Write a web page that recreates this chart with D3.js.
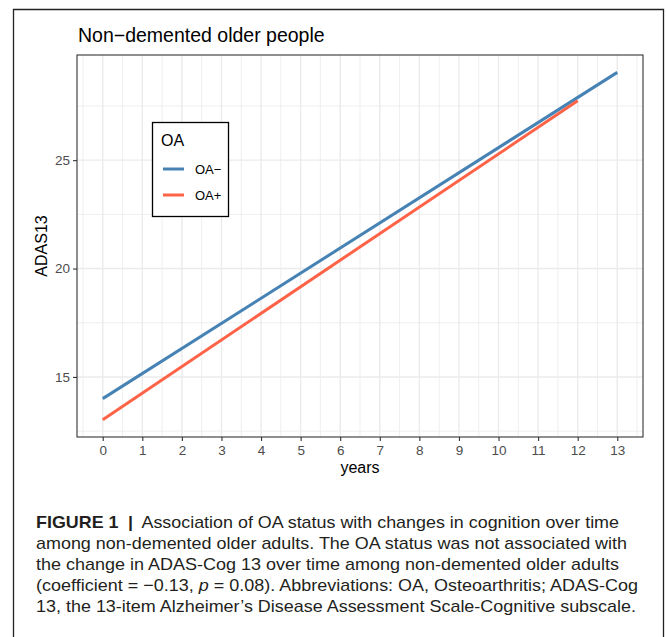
<!DOCTYPE html>
<html>
<head>
<meta charset="utf-8">
<script src="https://cdn.jsdelivr.net/npm/d3@7"></script>
<style>
    body { margin: 0; background: #fff; }
    svg { display: block; font-family: "Liberation Sans", Arial, sans-serif; }
</style>
</head>
<body>
<div class="chart"></div>
<script>
// data
var groups = ['OA−', 'OA+'];
var colors = ['#4682B4', '#FF6347'];
var oaMinusYears = [0, 13];
var oaMinusScore = [14.0, 29.05];
var oaPlusYears = [0, 12];
var oaPlusScore = [13.03, 27.74];
var xTicks = [0, 1, 2, 3, 4, 5, 6, 7, 8, 9, 10, 11, 12, 13];
var yTicks = [15, 20, 25];

var captionLines = [
    [{t: 'FIGURE 1', b: true}, {t: '|', b: true, dx: 9}, {t: 'Association of OA status with changes in cognition over time', dx: 8}],
    [{t: 'among non-demented older adults. The OA status was not associated with'}],
    [{t: 'the change in ADAS-Cog 13 over time among non-demented older adults'}],
    [{t: '(coefficient = \u22120.13, '}, {t: 'p', i: true}, {t: ' = 0.08). Abbreviations: OA, Osteoarthritis; ADAS-Cog'}],
    [{t: '13, the 13-item Alzheimer\u2019s Disease Assessment Scale-Cognitive subscale.'}]
];
var captionEnds = [619, 627, 619, 638, 636];

var W = 667, H = 637;
var panel = {left: 77, right: 643, top: 55, bottom: 437};

var series = [
    {name: groups[0], color: colors[0], pts: oaMinusYears.map(function (x, i) { return [x, oaMinusScore[i]]; })},
    {name: groups[1], color: colors[1], pts: oaPlusYears.map(function (x, i) { return [x, oaPlusScore[i]]; })}
];

// ggplot-style 5% expansion
function expand(ext) {
    var d = (ext[1] - ext[0]) * 0.05;
    return [ext[0] - d, ext[1] + d];
}
var allX = oaMinusYears.concat(oaPlusYears);
var allY = oaMinusScore.concat(oaPlusScore);

var x = d3.scaleLinear().domain(expand(d3.extent(allX))).range([panel.left, panel.right]);
var y = d3.scaleLinear().domain(expand(d3.extent(allY))).range([panel.bottom, panel.top]);

var svg = d3.select('.chart').append('svg')
    .attr('width', W)
    .attr('height', H);

// outer figure frame
svg.append('path')
    .attr('d', 'M13.5,' + (H + 2) + 'V9.5H663.5V' + (H + 2))
    .attr('fill', 'none')
    .attr('stroke', '#222')
    .attr('stroke-width', 1.3);

// grid
var xMinor = d3.range(-0.5, 14, 1).filter(function (d) { return d > x.domain()[0] && d < x.domain()[1]; });
var yMinor = [12.5, 17.5, 22.5, 27.5].filter(function (d) { return d > y.domain()[0] && d < y.domain()[1]; });

var grid = svg.append('g');
grid.selectAll('line.xminor').data(xMinor).enter().append('line')
    .attr('x1', function (d) { return x(d); }).attr('x2', function (d) { return x(d); })
    .attr('y1', panel.top).attr('y2', panel.bottom)
    .attr('stroke', '#EBEBEB').attr('stroke-width', 0.8);
grid.selectAll('line.yminor').data(yMinor).enter().append('line')
    .attr('y1', function (d) { return y(d); }).attr('y2', function (d) { return y(d); })
    .attr('x1', panel.left).attr('x2', panel.right)
    .attr('stroke', '#EBEBEB').attr('stroke-width', 0.8);
grid.selectAll('line.xmajor').data(xTicks).enter().append('line')
    .attr('x1', function (d) { return x(d); }).attr('x2', function (d) { return x(d); })
    .attr('y1', panel.top).attr('y2', panel.bottom)
    .attr('stroke', '#EBEBEB').attr('stroke-width', 1.4);
grid.selectAll('line.ymajor').data(yTicks).enter().append('line')
    .attr('y1', function (d) { return y(d); }).attr('y2', function (d) { return y(d); })
    .attr('x1', panel.left).attr('x2', panel.right)
    .attr('stroke', '#EBEBEB').attr('stroke-width', 1.4);

// lines
var line = d3.line()
    .x(function (d) { return x(d[0]); })
    .y(function (d) { return y(d[1]); });

svg.selectAll('path.series').data(series).enter().append('path')
    .attr('class', 'series')
    .attr('d', function (d) { return line(d.pts); })
    .attr('fill', 'none')
    .attr('stroke', function (d) { return d.color; })
    .attr('stroke-width', 3);

// panel border
svg.append('rect')
    .attr('x', panel.left).attr('y', panel.top)
    .attr('width', panel.right - panel.left).attr('height', panel.bottom - panel.top)
    .attr('fill', 'none').attr('stroke', '#333').attr('stroke-width', 1.1);

// axes
var xAxis = svg.append('g')
    .attr('transform', 'translate(0,' + panel.bottom + ')')
    .call(d3.axisBottom(x).tickValues(xTicks).tickSize(4).tickPadding(4));
var yAxis = svg.append('g')
    .attr('transform', 'translate(' + panel.left + ',0)')
    .call(d3.axisLeft(y).tickValues(yTicks).tickSize(4).tickPadding(3));

[xAxis, yAxis].forEach(function (a) {
    a.select('.domain').remove();
    a.selectAll('.tick line').attr('stroke', '#333').attr('stroke-width', 1.1);
    a.selectAll('.tick text')
        .attr('fill', '#4D4D4D')
        .style('font-family', '"Liberation Sans", Arial, sans-serif')
        .style('font-size', '13.5px');
});

// titles
svg.append('text')
    .attr('x', 78).attr('y', 42)
    .attr('font-size', 19.5)
    .attr('fill', '#000')
    .text('Non\u2212demented older people');

svg.append('text')
    .attr('x', (panel.left + panel.right) / 2).attr('y', 473)
    .attr('text-anchor', 'middle')
    .attr('font-size', 16)
    .text('years');

svg.append('text')
    .attr('transform', 'translate(47,' + ((panel.top + panel.bottom) / 2) + ') rotate(-90)')
    .attr('text-anchor', 'middle')
    .attr('font-size', 16)
    .text('ADAS13');

// legend
var legend = svg.append('g').attr('transform', 'translate(152,122)');
legend.append('rect')
    .attr('x', 0.5).attr('y', 0.5).attr('width', 76).attr('height', 94)
    .attr('fill', '#fff').attr('stroke', '#000').attr('stroke-width', 1.3);
legend.append('text')
    .attr('x', 9).attr('y', 24)
    .attr('font-size', 16)
    .text('OA');
var item = legend.selectAll('g.item').data(series).enter().append('g')
    .attr('class', 'item')
    .attr('transform', function (d, i) { return 'translate(0,' + (47 + i * 26) + ')'; });
item.append('line')
    .attr('x1', 11).attr('x2', 32)
    .attr('stroke', function (d) { return d.color; })
    .attr('stroke-width', 3);
item.append('text')
    .attr('x', 43).attr('y', 4.5)
    .attr('font-size', 13)
    .text(function (d) { return d.name; });

// caption
var cap = svg.append('g').attr('fill', '#231F20');
captionLines.forEach(function (parts, i) {
    var t = cap.append('text')
        .attr('x', 36)
        .attr('y', 527.5 + i * 21.2)
        .attr('font-size', 17)
        .attr('textLength', captionEnds[i] - 36)
        .attr('lengthAdjust', 'spacingAndGlyphs');
    parts.forEach(function (p) {
        t.append('tspan')
            .attr('dx', p.dx || null)
            .attr('font-weight', p.b ? 'bold' : null)
            .attr('font-style', p.i ? 'italic' : null)
            .text(p.t);
    });
});
</script>
</body>
</html>
